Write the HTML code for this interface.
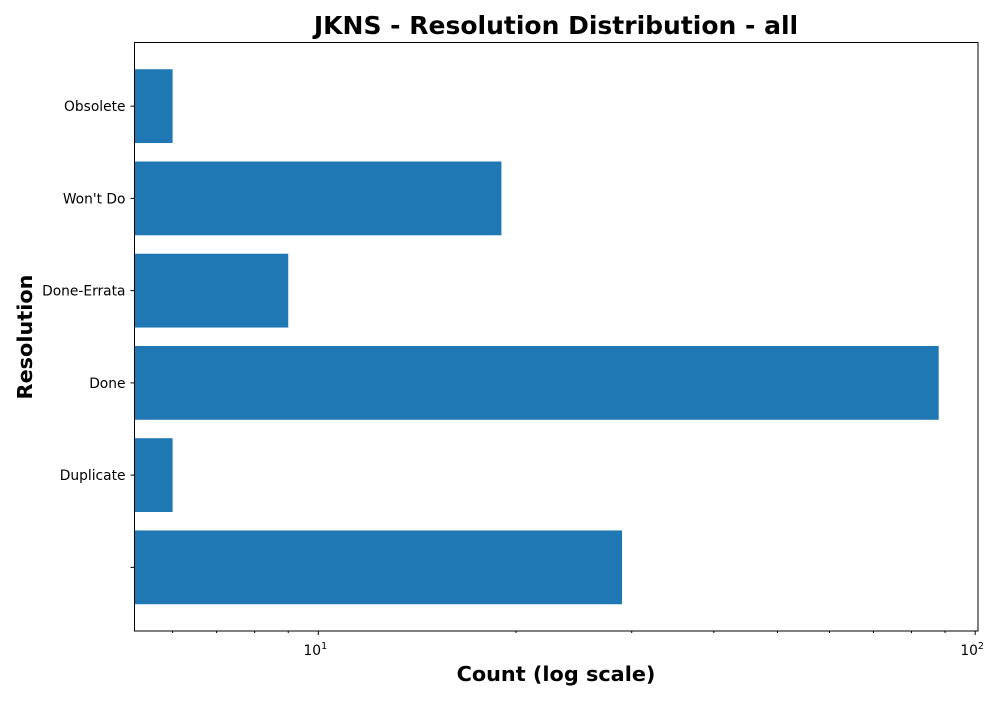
<!DOCTYPE html>
<html><head><meta charset="utf-8"><style>
body{margin:0;background:#fff;}
svg text{font-family:"DejaVu Sans","Liberation Sans",sans-serif;}
</style></head><body>
<svg id="chart" width="1000" height="700" xmlns="http://www.w3.org/2000/svg">
<rect width="1000" height="700" fill="#fff"/>
<text x="556" y="34" font-size="25" font-weight="bold" text-anchor="middle">JKNS - Resolution Distribution - all</text>
<text x="556" y="681" font-size="20.8" font-weight="bold" text-anchor="middle">Count (log scale)</text>
<text transform="translate(32,337) rotate(-90)" font-size="20.8" font-weight="bold" text-anchor="middle">Resolution</text>
<g id="bars"></g>
<g id="axes"></g>
<rect x="134.5" y="42.5" width="843.5" height="588.5" fill="none" stroke="#000" stroke-width="1"/>
</svg>
<script>
const categories = ["", "Duplicate", "Done", "Done-Errata", "Won't Do", "Obsolete"];
const counts = [29, 6, 88, 9, 19, 6];
const majorTicks = [10, 100];
const majorLabels = ["1", "2"];
const minorTicks = [6,7,8,9,20,30,40,50,60,70,80,90];

const L=134.5, R=978, T=42.5, B=631;
const xMin=5.25, xMax=101;
const NS="http://www.w3.org/2000/svg";
function x(v){return L+(Math.log10(v)-Math.log10(xMin))/(Math.log10(xMax)-Math.log10(xMin))*(R-L);}
const yLo=-0.4-0.29, yHi=5.4+0.29;
function y(i){return B-(i-yLo)/(yHi-yLo)*(B-T);}
const bh=0.8*(B-T)/(yHi-yLo);
function mk(tag,attrs,parent){const e=document.createElementNS(NS,tag);for(const k in attrs)e.setAttribute(k,attrs[k]);parent.appendChild(e);return e;}
const bars=document.getElementById('bars'), axes=document.getElementById('axes');
categories.forEach((c,i)=>{
  const r=mk('rect',{x:L,y:y(i)-bh/2,width:x(counts[i])-L,height:bh,fill:'#1f77b4'},bars);
  
  
  const t=mk('line',{x1:L-4,x2:L,y1:y(i),y2:y(i),stroke:'#000'},axes);
  
  
  const lb=mk('text',{x:L-9,y:y(i)+5,'font-size':13.8,'text-anchor':'end'},axes);
  lb.textContent=c;
  
  
});
majorTicks.forEach((v,k)=>{
  const t=mk('line',{x1:x(v),x2:x(v),y1:B,y2:B+4,stroke:'#000'},axes);
  
  
  const lb=mk('text',{x:x(v)-3,y:B+24,'font-size':13.8,'text-anchor':'middle'},axes);
  lb.textContent='10';
  const s=mk('tspan',{dy:-6,'font-size':9.5},lb);
  s.textContent=majorLabels[k];
  
  
});
minorTicks.forEach(v=>{
  if(x(v)>R)return;
  const t=mk('line',{x1:x(v),x2:x(v),y1:B,y2:B+2,stroke:'#000'},axes);
  
  
});
</script>
</body></html>
